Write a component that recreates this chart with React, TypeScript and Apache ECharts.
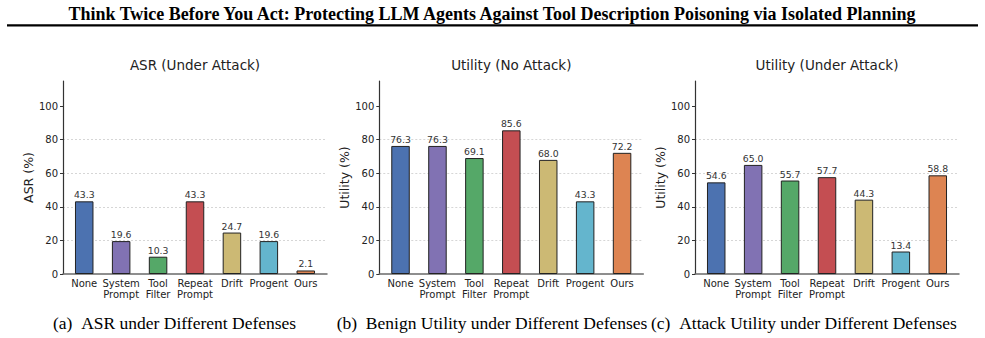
import React, { useEffect, useRef } from 'react';
import * as echarts from 'echarts';

const categories = ['None', 'System\nPrompt', 'Tool\nFilter', 'Repeat\nPrompt', 'Drift', 'Progent', 'Ours'];
const asrUnderAttack = [43.3, 19.6, 10.3, 43.3, 24.7, 19.6, 2.1];
const utilityNoAttack = [76.3, 76.3, 69.1, 85.6, 68.0, 43.3, 72.2];
const utilityUnderAttack = [54.6, 65.0, 55.7, 57.7, 44.3, 13.4, 58.8];
const yTicks = [0, 20, 40, 60, 80, 100];
const panelTitles = ['ASR (Under Attack)', 'Utility (No Attack)', 'Utility (Under Attack)'];
const yNames = ['ASR (%)', 'Utility (%)', 'Utility (%)'];
const captions = [
  '(a)\u2002ASR under Different Defenses',
  '(b)\u2002Benign Utility under Different Defenses',
  '(c)\u2002Attack Utility under Different Defenses',
];
const pageTitle =
  'Think Twice Before You Act: Protecting LLM Agents Against Tool Description Poisoning via Isolated Planning';

const barColors = ['#4C72B0', '#8172B3', '#55A868', '#C44E52', '#CCB974', '#64B5CD', '#DD8452'];

const panelData = [asrUnderAttack, utilityNoAttack, utilityUnderAttack];
const gridLefts = [63, 379.3, 695];
const gridWidth = 264;
const gridTop = 81;
const gridHeight = 193;
const captionX = [53, 336.7, 651];

const SANS = '"DejaVu Sans", sans-serif';
const SERIF = '"Liberation Serif", "Times New Roman", serif';

export default function App() {
  const ref = useRef<HTMLDivElement>(null);
  useEffect(() => {
    document.body.style.margin = '0';
    const chart = echarts.init(ref.current!, null, { renderer: 'svg' });
    const grids = gridLefts.map((l) => ({ left: l, top: gridTop, width: gridWidth, height: gridHeight }));
    const xAxes = gridLefts.map((_, gi) => ({
      type: 'value',
      gridIndex: gi,
      min: -0.575,
      max: 6.575,
      axisLine: { show: true, onZero: false, lineStyle: { color: '#6a6a6a', width: 1.5 } },
      axisTick: { show: false },
      splitLine: { show: false },
      axisLabel: {
        customValues: [0, 1, 2, 3, 4, 5, 6],
        formatter: (v: number) => categories[Math.round(v)] ?? '',
        fontFamily: SANS,
        fontSize: 10,
        lineHeight: 11,
        color: '#222',
        margin: 4,
        showMinLabel: true,
        showMaxLabel: true,
      },
    }));
    const yAxes = gridLefts.map((_, gi) => ({
      type: 'value',
      gridIndex: gi,
      min: 0,
      max: 115,
      interval: 20,
      name: yNames[gi],
      nameLocation: 'middle',
      nameGap: 23,
      nameTextStyle: { fontFamily: SANS, fontSize: 12.5, color: '#222' },
      axisLine: { show: true, onZero: false, lineStyle: { color: '#333', width: 1.2 } },
      axisTick: { show: true, length: 3, customValues: yTicks, lineStyle: { color: '#333', width: 1 } },
      axisLabel: {
        customValues: yTicks,
        fontFamily: SANS,
        fontSize: 10,
        color: '#222',
        margin: 5,
      },
      splitLine: {
        show: true,
        showMinLine: false,
        showMaxLine: false,
        lineStyle: { color: '#cccccc', type: [2, 2], width: 0.8 },
      },
    }));
    const series = panelData.map((vals, gi) => ({
      type: 'bar',
      xAxisIndex: gi,
      yAxisIndex: gi,
      barWidth: 18.5,
      data: vals.map((v, i) => ({ value: [i, v], itemStyle: { color: barColors[i] } })),
      itemStyle: { borderColor: '#222', borderWidth: 1 },
      label: {
        show: true,
        position: 'top',
        distance: 2,
        formatter: (p: any) => Number(p.value[1]).toFixed(1),
        fontFamily: SANS,
        fontSize: 9.3,
        color: '#333',
      },
    }));
    const graphics: any[] = [
      {
        type: 'text',
        x: 492,
        y: 14,
        style: {
          text: pageTitle,
          font: `bold 18px ${SERIF}`,
          fill: '#000',
          align: 'center',
          verticalAlign: 'middle',
        },
      },
      {
        type: 'line',
        shape: { x1: 7, y1: 25.3, x2: 978, y2: 25.3 },
        style: { stroke: '#000', lineWidth: 2.2 },
      },
    ];
    gridLefts.forEach((l, gi) => {
      graphics.push({
        type: 'text',
        x: l + gridWidth / 2,
        y: 65,
        style: {
          text: panelTitles[gi],
          font: `13.5px ${SANS}`,
          fill: '#222',
          align: 'center',
          verticalAlign: 'middle',
        },
      });
      graphics.push({
        type: 'text',
        x: captionX[gi],
        y: 323,
        style: {
          text: captions[gi],
          font: `17.5px ${SERIF}`,
          fill: '#000',
          align: 'left',
          verticalAlign: 'middle',
        },
      });
    });
    chart.setOption({
      animation: false,
      backgroundColor: '#fff',
      grid: grids,
      xAxis: xAxes,
      yAxis: yAxes,
      series,
      graphic: graphics,
    });
    return () => chart.dispose();
  }, []);
  return <div ref={ref} style={{ width: 985, height: 338 }} />;
}
